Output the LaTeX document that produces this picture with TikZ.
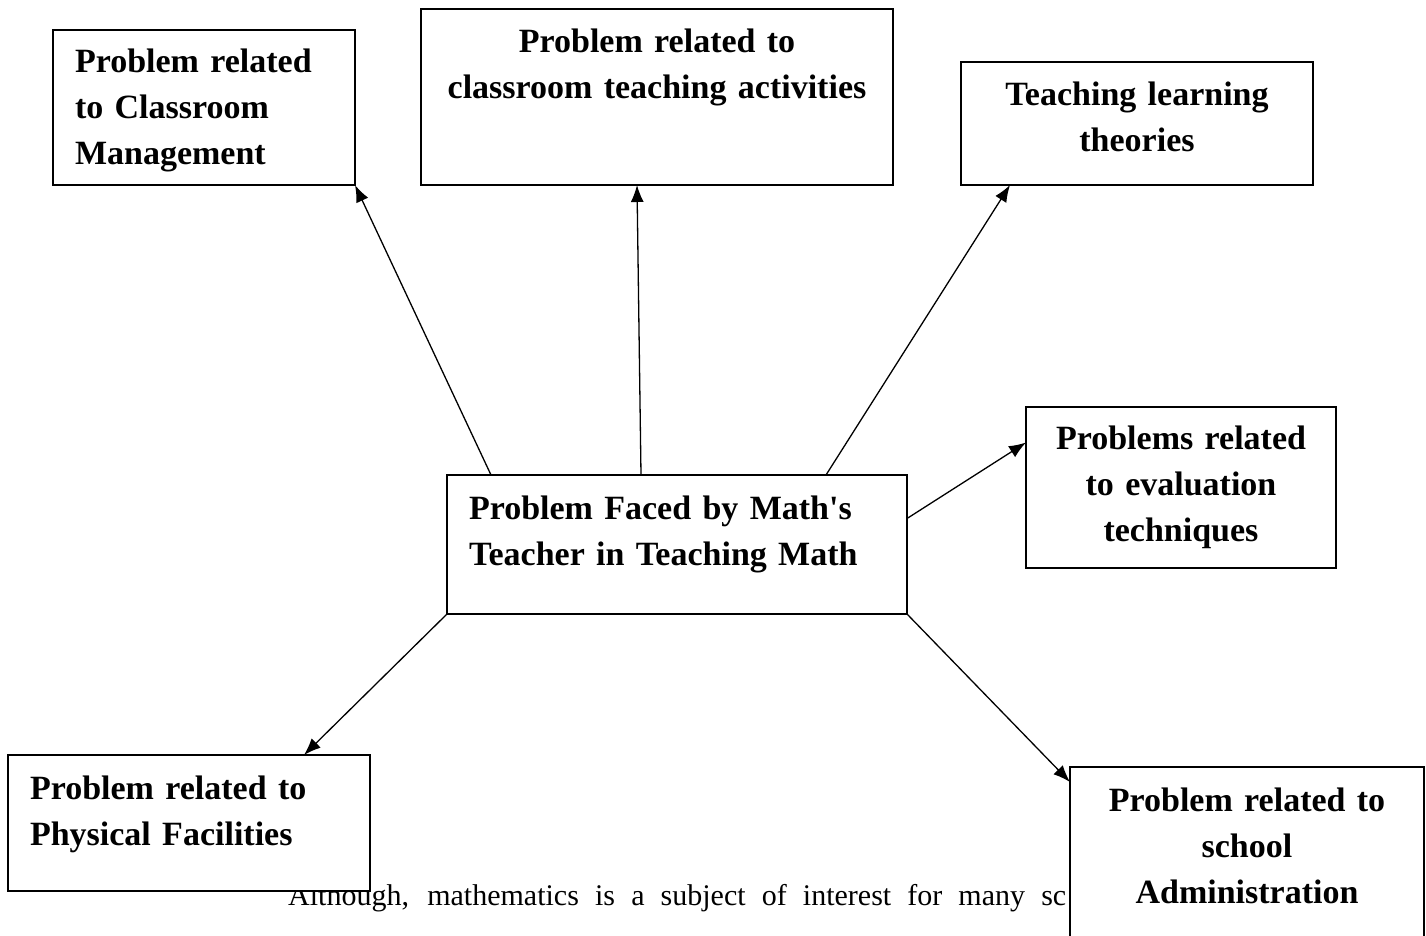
\documentclass[tikz,border=0pt]{standalone}
\usepackage{fontspec}
\setmainfont{Liberation Serif}
\usetikzlibrary{arrows.meta}

\begin{document}
\begin{tikzpicture}[x=1pt, y=-1pt, >={Latex[length=17pt,width=13pt]},
    box/.style={draw, fill=white, line width=1.5pt, anchor=north west,
        inner ysep=0pt, inner xsep=22pt, outer sep=0pt,
        font=\fontsize{34}{46}\selectfont\bfseries},
    link/.style={->, line width=1.3pt}]
        \useasboundingbox (0,0) rectangle (1426,936);

        % Text running under the boxes
        \node[anchor=base west, inner sep=0pt, font=\fontsize{30}{36}\selectfont] (para) at (288,905)
            {\makebox[778pt][s]{Although, mathematics is a subject of interest for many sc}};

        % Boxes
        \node[box, text width=258pt, align=left, text height=43pt, text depth=112pt] (mgmt) at (53,30)
            {Problem related\\to Classroom\\Management};
        \node[box, inner xsep=15pt, text width=442pt, align=center, text height=44pt, text depth=132pt] (activ) at (421,9)
            {Problem related to\\classroom teaching activities};
        \node[box, text width=308pt, align=center, text height=44pt, text depth=79pt] (theory) at (961,62)
            {Teaching learning\\theories};
        \node[box, text width=266pt, align=center, text height=42pt, text depth=119pt] (eval) at (1026,407)
            {Problems related\\to evaluation\\techniques};
        \node[box, text width=416pt, align=left, text height=44pt, text depth=95pt] (faced) at (447,475)
            {Problem Faced by Math\textquotesingle s\\Teacher in Teaching Math};
        \node[box, text width=318pt, align=left, text height=44pt, text depth=92pt] (phys) at (8,755)
            {Problem related to\\Physical Facilities};
        \node[box, text width=310pt, align=center, text height=44pt, text depth=200pt] (admin) at (1070,767)
            {Problem related to\\school\\Administration};

        % Arrows
        \draw[link] ([xshift=-186pt]faced.north) -- (mgmt.south east);
        \draw[link] ([xshift=-36pt]faced.north) -- ([xshift=-20pt]activ.south);
        \draw[link] ([xshift=149pt]faced.north) -- ([xshift=-127pt]theory.south);
        \draw[link] ([yshift=26pt]faced.east) -- ([yshift=45pt]eval.west);
        \draw[link] (faced.south west) -- ([xshift=115pt]phys.north);
        \draw[link] (faced.south east) -- ([yshift=-15pt]admin.north west);
    \end{tikzpicture}
\end{document}
